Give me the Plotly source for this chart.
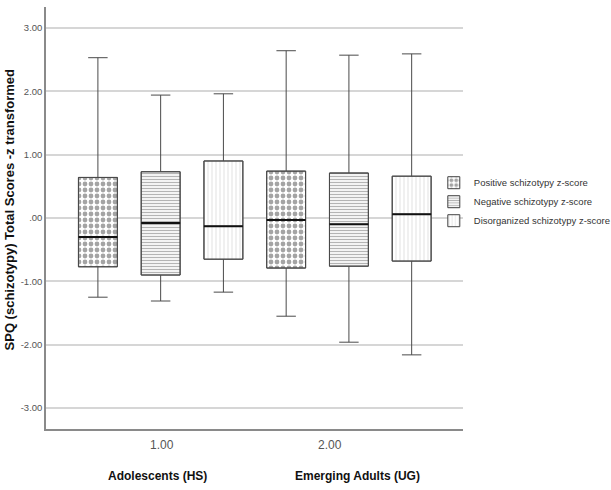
import plotly.graph_objects as go

# Groups and score summaries (z-transformed SPQ subscales)
groups = ["1.00", "2.00"]
group_names = ["Adolescents (HS)", "Emerging Adults (UG)"]
series = ["Positive schizotypy z-score", "Negative schizotypy z-score", "Disorganized schizotypy z-score"]

pos_low = [-1.25, -1.55]
pos_q1 = [-0.77, -0.79]
pos_med = [-0.30, -0.03]
pos_q3 = [0.64, 0.74]
pos_high = [2.53, 2.64]

neg_low = [-1.31, -1.96]
neg_q1 = [-0.90, -0.76]
neg_med = [-0.08, -0.10]
neg_q3 = [0.73, 0.71]
neg_high = [1.94, 2.57]

dis_low = [-1.17, -2.16]
dis_q1 = [-0.65, -0.68]
dis_med = [-0.13, 0.06]
dis_q3 = [0.90, 0.66]
dis_high = [1.96, 2.59]

y_ticks = [-3, -2, -1, 0, 1, 2, 3]
y_ticktext = ["-3.00", "-2.00", "-1.00", ".00", "1.00", "2.00", "3.00"]
y_title = "SPQ (schizotypy) Total Scores -z transformed"

stats = [
    (pos_low, pos_q1, pos_med, pos_q3, pos_high),
    (neg_low, neg_q1, neg_med, neg_q3, neg_high),
    (dis_low, dis_q1, dis_med, dis_q3, dis_high),
]
patterns = [
    dict(shape=".", size=6, solidity=0.5, fgcolor="#4a4a4a", bgcolor="white"),
    dict(shape="-", size=3, solidity=0.45, fgcolor="#6a6a6a", bgcolor="white"),
    dict(shape="|", size=4, solidity=0.2, fgcolor="#b5b5b5", bgcolor="white"),
]
keys = ["pos", "neg", "dis"]

fig = go.Figure()

# Hatched interquartile fills (also carry the legend entries)
for name, (lo, q1, md, q3, hi), pat, key in zip(series, stats, patterns, keys):
    fig.add_trace(go.Bar(
        x=groups, y=[b - a for a, b in zip(q1, q3)], base=q1,
        name=name, offsetgroup=key,
        marker=dict(color="white", pattern=pat, line=dict(color="#444444", width=1)),
        showlegend=True, hoverinfo="skip",
    ))

# Box outlines and whiskers
for name, (lo, q1, md, q3, hi), key in zip(series, stats, keys):
    fig.add_trace(go.Box(
        x=groups, q1=q1, median=md, q3=q3, lowerfence=lo, upperfence=hi,
        name=name, offsetgroup=key, alignmentgroup="a",
        fillcolor="rgba(0,0,0,0)", line=dict(color="#4a4a4a", width=1),
        whiskerwidth=0.5, showlegend=False, boxpoints=False,
    ))

# Heavier median lines
for name, (lo, q1, md, q3, hi), key in zip(series, stats, keys):
    fig.add_trace(go.Box(
        x=groups, q1=md, median=md, q3=md, lowerfence=md, upperfence=md,
        name=name, offsetgroup=key, alignmentgroup="a",
        fillcolor="rgba(0,0,0,0)", line=dict(color="#111111", width=2),
        whiskerwidth=0, showlegend=False, boxpoints=False,
    ))

narrow = "Liberation Sans Narrow, Arial Narrow, Liberation Sans, Arial"

fig.update_layout(
    width=611, height=490,
    margin=dict(l=46, r=148, t=7, b=61, autoexpand=False),
    paper_bgcolor="white", plot_bgcolor="white",
    boxmode="group", boxgap=0, boxgroupgap=0.38,
    barmode="group", bargap=0, bargroupgap=0.38,
    showlegend=True,
    legend=dict(
        x=0.93, y=0.618, xanchor="left", yanchor="top",
        font=dict(family=narrow, size=9.5, color="#333333"),
        bgcolor="rgba(0,0,0,0)", itemwidth=30, tracegroupgap=0,
    ),
    xaxis=dict(
        type="category", range=[-0.609, 1.606],
        showticklabels=False, ticks="",
        showline=True, linecolor="#8a8a8a", linewidth=1.5,
        showgrid=False, zeroline=False, automargin=False,
    ),
    yaxis=dict(
        range=[-3.33, 3.33], tickvals=y_ticks, ticktext=y_ticktext,
        tickfont=dict(family=narrow, size=9.5, color="#555555"),
        ticks="", ticklabelstandoff=0, automargin=False,
        showline=True, linecolor="#8a8a8a", linewidth=1.5,
        showgrid=True, gridcolor="#d6d6d6", gridwidth=1.5, zeroline=False,
    ),
)

# Vertical axis title
fig.add_annotation(text="<b>" + y_title + "</b>", xref="paper", yref="paper",
                   x=-0.088, y=0.521, xanchor="center", yanchor="middle",
                   textangle=-90, showarrow=False,
                   font=dict(family="Liberation Sans, Arial", size=13, color="#111111"))

# Category labels under the axis
for g, px_x in zip(groups, [0.278, 0.680]):
    fig.add_annotation(text=g, xref="paper", yref="paper", x=px_x, y=-0.038,
                       xanchor="center", yanchor="middle", showarrow=False,
                       font=dict(family=narrow, size=12, color="#555555"))
for gname, px_x in zip(group_names, [0.268, 0.748]):
    fig.add_annotation(text="<b>" + gname + "</b>", xref="paper", yref="paper", x=px_x, y=-0.112,
                       xanchor="center", yanchor="middle", showarrow=False,
                       font=dict(family=narrow, size=12, color="#111111"))

fig.write_html("out.html")
